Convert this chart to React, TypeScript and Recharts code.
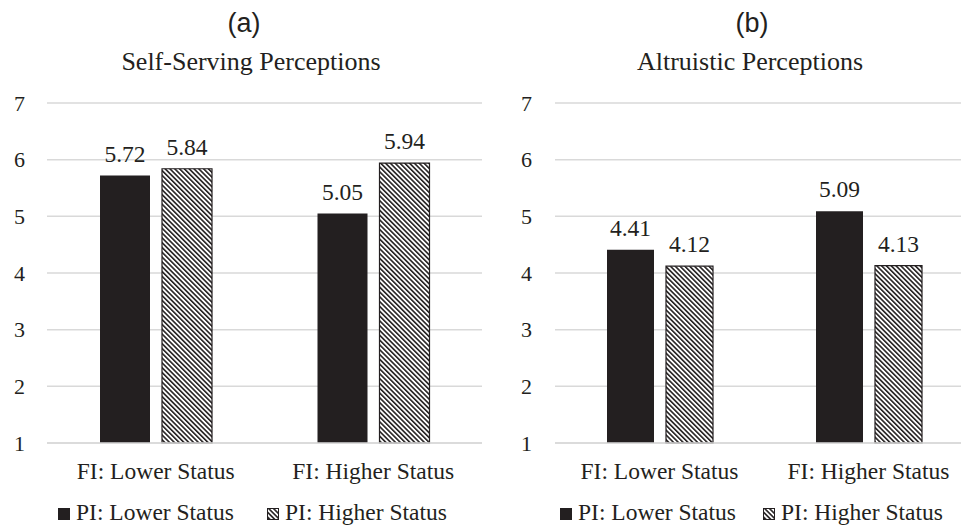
import React from "react";
import {
    BarChart,
    Bar,
    XAxis,
    YAxis,
    CartesianGrid,
    LabelList,
    Legend,
} from "recharts";

const categories = ["FI: Lower Status", "FI: Higher Status"];
const seriesNames = ["PI: Lower Status", "PI: Higher Status"];

// panel (a) values
const selfServingLower = [5.72, 5.05];
const selfServingHigher = [5.84, 5.94];

// panel (b) values
const altruisticLower = [4.41, 5.09];
const altruisticHigher = [4.12, 4.13];

const yTicks = [1, 2, 3, 4, 5, 6, 7];

const INK = "#231f20";
const GRID = "#d9d9d9";
const SERIF = "'Liberation Serif', 'Times New Roman', serif";
const SANS = "'Liberation Sans', Arial, sans-serif";

const buildRows = (lower: number[], higher: number[]) =>
    categories.map((cat, i) => ({
        category: cat,
        lower: lower[i],
        higher: higher[i],
    }));

const Hatch = ({ id }: { id: string }) => (
    <pattern
        id={id}
        patternUnits="userSpaceOnUse"
        width={3.4}
        height={3.4}
        patternTransform="rotate(-45)"
    >
        <rect width={3.4} height={3.4} fill="#ffffff" />
        <line x1={0.8} y1={0} x2={0.8} y2={3.4} stroke={INK} strokeWidth={1.6} />
    </pattern>
);

interface LegendProps {
    itemWidth: number;
    patternId: string;
}

// series order is fixed here, the library would sort the payload by name
const PanelLegend = ({ itemWidth, patternId }: LegendProps) => (
    <div
        style={{
            display: "flex",
            fontFamily: SERIF,
            fontSize: 23.5,
            lineHeight: "26px",
            color: INK,
            whiteSpace: "nowrap",
        }}
    >
        {seriesNames.map((name, i) => (
            <span
                key={name}
                style={{
                    display: "inline-flex",
                    alignItems: "baseline",
                    width: i === 0 ? itemWidth : "auto",
                }}
            >
                <svg width={12} height={12} style={{ marginRight: 6 }}>
                    <defs>
                        <Hatch id={patternId + "-icon"} />
                    </defs>
                    {i === 0 ? (
                        <rect x={0} y={0} width={12} height={12} fill={INK} />
                    ) : (
                        <rect
                            x={0.5}
                            y={0.5}
                            width={11}
                            height={11}
                            fill={`url(#${patternId}-icon)`}
                            stroke={INK}
                        />
                    )}
                </svg>
                {name}
            </span>
        ))}
    </div>
);

interface PanelProps {
    left: number;
    width: number;
    yAxisWidth: number;
    yTickMargin: number;
    barSize: number;
    letter: string;
    letterX: number;
    title: string;
    titleX: number;
    lower: number[];
    higher: number[];
    patternId: string;
    legendLeft: number;
    legendItemWidth: number;
}

const Panel = (p: PanelProps) => {
    const rows = buildRows(p.lower, p.higher);
    return (
        <>
            <div
                style={{
                    position: "absolute",
                    left: p.letterX,
                    top: 10,
                    transform: "translateX(-50%)",
                    fontFamily: SANS,
                    fontSize: 27,
                    lineHeight: "27px",
                    color: INK,
                    whiteSpace: "nowrap",
                }}
            >
                {p.letter}
            </div>
            <div
                style={{
                    position: "absolute",
                    left: p.titleX,
                    top: 49,
                    transform: "translateX(-50%)",
                    fontFamily: SERIF,
                    fontSize: 26,
                    lineHeight: "25px",
                    color: INK,
                    whiteSpace: "nowrap",
                }}
            >
                {p.title}
            </div>
            <div
                style={{
                    position: "absolute",
                    left: p.left,
                    top: 0,
                    fontFamily: SERIF,
                }}
            >
                <BarChart
                    width={p.width}
                    height={528}
                    data={rows}
                    margin={{ top: 103, right: 0, left: 0, bottom: 45 }}
                    barSize={p.barSize}
                    barGap={12}
                >
                    <defs>
                        <Hatch id={p.patternId} />
                    </defs>
                    <CartesianGrid
                        vertical={false}
                        stroke={GRID}
                        strokeWidth={1.5}
                    />
                    <XAxis
                        dataKey="category"
                        height={40}
                        tickLine={false}
                        axisLine={{ stroke: GRID, strokeWidth: 1.5 }}
                        tickMargin={13}
                        tick={{ fill: INK, fontSize: 23.5, fontFamily: SERIF }}
                    />
                    <YAxis
                        domain={[1, 7]}
                        ticks={yTicks}
                        width={p.yAxisWidth}
                        tickLine={false}
                        axisLine={false}
                        tickMargin={p.yTickMargin}
                        tick={{ fill: INK, fontSize: 22, fontFamily: SERIF }}
                    />
                    <Legend
                        verticalAlign="middle"
                        align="center"
                        wrapperStyle={{ left: p.legendLeft, top: 499, width: "auto" }}
                        content={() => (
                            <PanelLegend
                                itemWidth={p.legendItemWidth}
                                patternId={p.patternId}
                            />
                        )}
                    />
                    <Bar
                        dataKey="lower"
                        name={seriesNames[0]}
                        fill={INK}
                        isAnimationActive={false}
                    >
                        <LabelList
                            dataKey="lower"
                            position="top"
                            offset={14}
                            fill={INK}
                            fontSize={23.5}
                            fontFamily={SERIF}
                            formatter={(v: any) => Number(v).toFixed(2)}
                        />
                    </Bar>
                    <Bar
                        dataKey="higher"
                        name={seriesNames[1]}
                        fill={`url(#${p.patternId})`}
                        stroke={INK}
                        strokeWidth={1.2}
                        isAnimationActive={false}
                    >
                        <LabelList
                            dataKey="higher"
                            position="top"
                            offset={14}
                            fill={INK}
                            fontSize={23.5}
                            fontFamily={SERIF}
                            formatter={(v: any) => Number(v).toFixed(2)}
                        />
                    </Bar>
                </BarChart>
            </div>
        </>
    );
};

const App: React.FC = () => {
    return (
        <div
            style={{
                position: "absolute",
                left: 0,
                top: 0,
                width: 961,
                height: 528,
                overflow: "hidden",
                background: "#ffffff",
            }}
        >
            <Panel
                left={0}
                width={482}
                yAxisWidth={47}
                yTickMargin={16}
                barSize={50}
                letter="(a)"
                letterX={244}
                title="Self-Serving Perceptions"
                titleX={251}
                lower={selfServingLower}
                higher={selfServingHigher}
                patternId="hatchA"
                legendLeft={58}
                legendItemWidth={209}
            />
            <Panel
                left={480}
                width={493}
                yAxisWidth={75}
                yTickMargin={17}
                barSize={47}
                letter="(b)"
                letterX={752}
                title="Altruistic Perceptions"
                titleX={750}
                lower={altruisticLower}
                higher={altruisticHigher}
                patternId="hatchB"
                legendLeft={80}
                legendItemWidth={203}
            />
        </div>
    );
};

export default App;
